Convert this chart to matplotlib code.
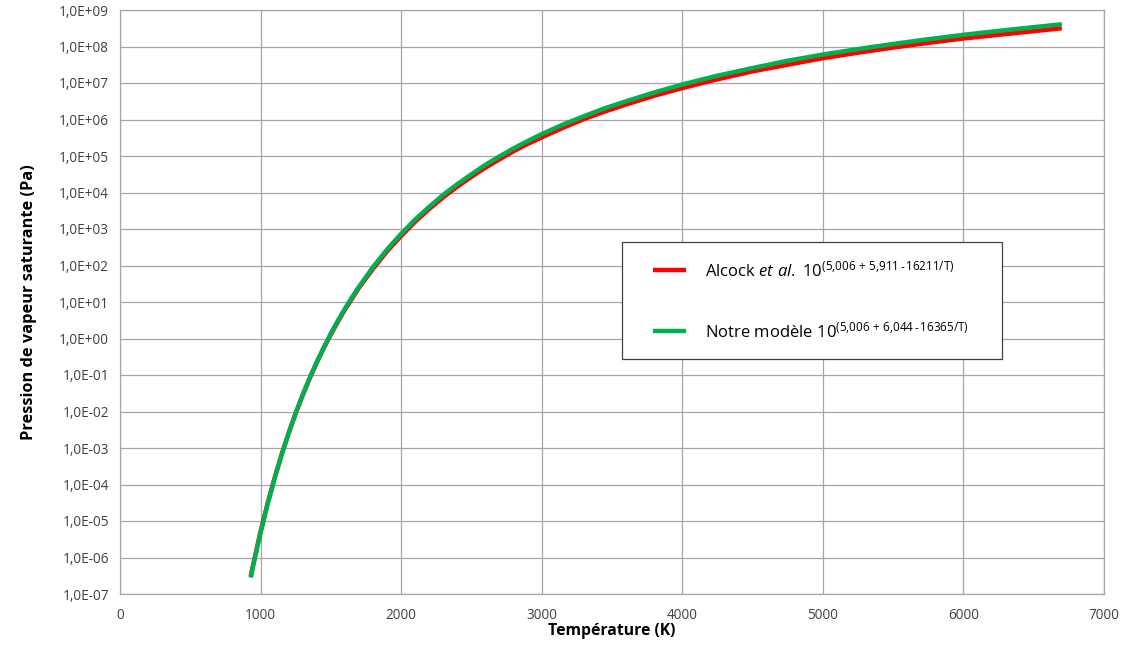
import numpy as np
import matplotlib
matplotlib.use("Agg")
import matplotlib.pyplot as plt
from matplotlib.ticker import FuncFormatter, LogLocator, NullLocator
from matplotlib.legend_handler import HandlerLine2D

# temperatures (K) and log10 of the saturated vapour pressure (Pa)
temperature = [930, 950, 1000, 1050, 1100, 1150, 1200, 1250, 1300, 1350, 1400, 1450,
               1500, 1550, 1600, 1650, 1700, 1800, 1900, 2000, 2100, 2200, 2300, 2400,
               2500, 2600, 2700, 2800, 2900, 3000, 3150, 3300, 3450, 3600, 3800, 4000,
               4250, 4500, 4750, 5000, 5250, 5500, 5750, 6000, 6350, 6700]
log_p_alcock = [-6.51, -6.15, -5.29, -4.52, -3.82, -3.18, -2.59, -2.05, -1.55, -1.09,
                -0.66, -0.26, 0.11, 0.46, 0.79, 1.09, 1.39, 1.91, 2.39, 2.81, 3.20,
                3.55, 3.87, 4.16, 4.43, 4.68, 4.91, 5.13, 5.33, 5.51, 5.77, 6.01, 6.22,
                6.41, 6.65, 6.86, 7.10, 7.32, 7.50, 7.68, 7.83, 7.97, 8.10, 8.22, 8.36,
                8.50]
log_p_model = [-6.55, -6.18, -5.32, -4.54, -3.83, -3.18, -2.59, -2.04, -1.54, -1.07,
               -0.64, -0.24, 0.14, 0.49, 0.82, 1.13, 1.42, 1.96, 2.44, 2.87, 3.26,
               3.61, 3.94, 4.23, 4.50, 4.76, 4.99, 5.21, 5.41, 5.60, 5.86, 6.09, 6.31,
               6.50, 6.74, 6.96, 7.20, 7.41, 7.61, 7.78, 7.93, 8.07, 8.20, 8.32, 8.47,
               8.61]

label_alcock = "Alcock $\\mathit{et\\ al.}$ 10$^{\\mathrm{(5{,}006\\,+\\,5{,}911\\,\u2010\\,16211/T)}}$"
label_model = "Notre modèle 10$^{\\mathrm{(5{,}006\\,+\\,6{,}044\\,\u2010\\,16365/T)}}$"

plt.rcParams["font.family"] = ["Open Sans", "DejaVu Sans"]
plt.rcParams["mathtext.fontset"] = "custom"
plt.rcParams["mathtext.rm"] = "Open Sans"
plt.rcParams["mathtext.it"] = "Open Sans:italic"

fig = plt.figure(figsize=(11.26, 6.46), dpi=100)
ax = fig.add_axes([120 / 1126, 1 - 594 / 646, 984 / 1126, 584 / 646])

p_alcock = [10 ** v for v in log_p_alcock]
p_model = [10 ** v for v in log_p_model]
ax.plot(temperature, p_alcock, color="#ff0000", lw=3.2, label=label_alcock,
        solid_capstyle="butt")
ax.plot(temperature, p_model, color="#00b050", lw=3.2, label=label_model,
        solid_capstyle="butt")

ax.set_yscale("log")
ax.set_xlim(0, 7000)
ax.set_ylim(1e-7, 1e9)
ax.set_xticks(range(0, 7001, 1000))
ax.yaxis.set_major_locator(LogLocator(base=10, numticks=30))
ax.yaxis.set_minor_locator(NullLocator())
ax.yaxis.set_major_formatter(
    FuncFormatter(lambda v, pos: "1,0E%+03d" % int(round(np.log10(v)))))

ax.grid(True, color="#a6a6a6", lw=0.9)
ax.set_axisbelow(True)
for s in ax.spines.values():
    s.set_color("#a6a6a6")
    s.set_linewidth(0.9)
ax.tick_params(length=0, labelsize=9.8, colors="#404040")
ax.tick_params(axis="x", pad=10)
ax.tick_params(axis="y", pad=8)

ax.set_xlabel("Température (K)", fontsize=11.3, fontweight="bold", labelpad=0)
ax.set_ylabel("Pression de vapeur saturante (Pa)", fontsize=11.8,
              fontweight="bold", labelpad=16)

leg = ax.legend(loc="upper left",
                bbox_to_anchor=(622 / 1126, 1 - 358 / 646, 380 / 1126, 116 / 646),
                bbox_transform=fig.transFigure, mode="expand", borderaxespad=0,
                fontsize=12, handlelength=2.76, handletextpad=1.14, borderpad=1.1,
                labelspacing=2.45, fancybox=False, framealpha=1,
                handler_map={plt.Line2D: HandlerLine2D(xpad=0.78)})
leg.get_frame().set_edgecolor("#404040")
leg.get_frame().set_linewidth(0.9)

fig.savefig("out.png", dpi=100)
